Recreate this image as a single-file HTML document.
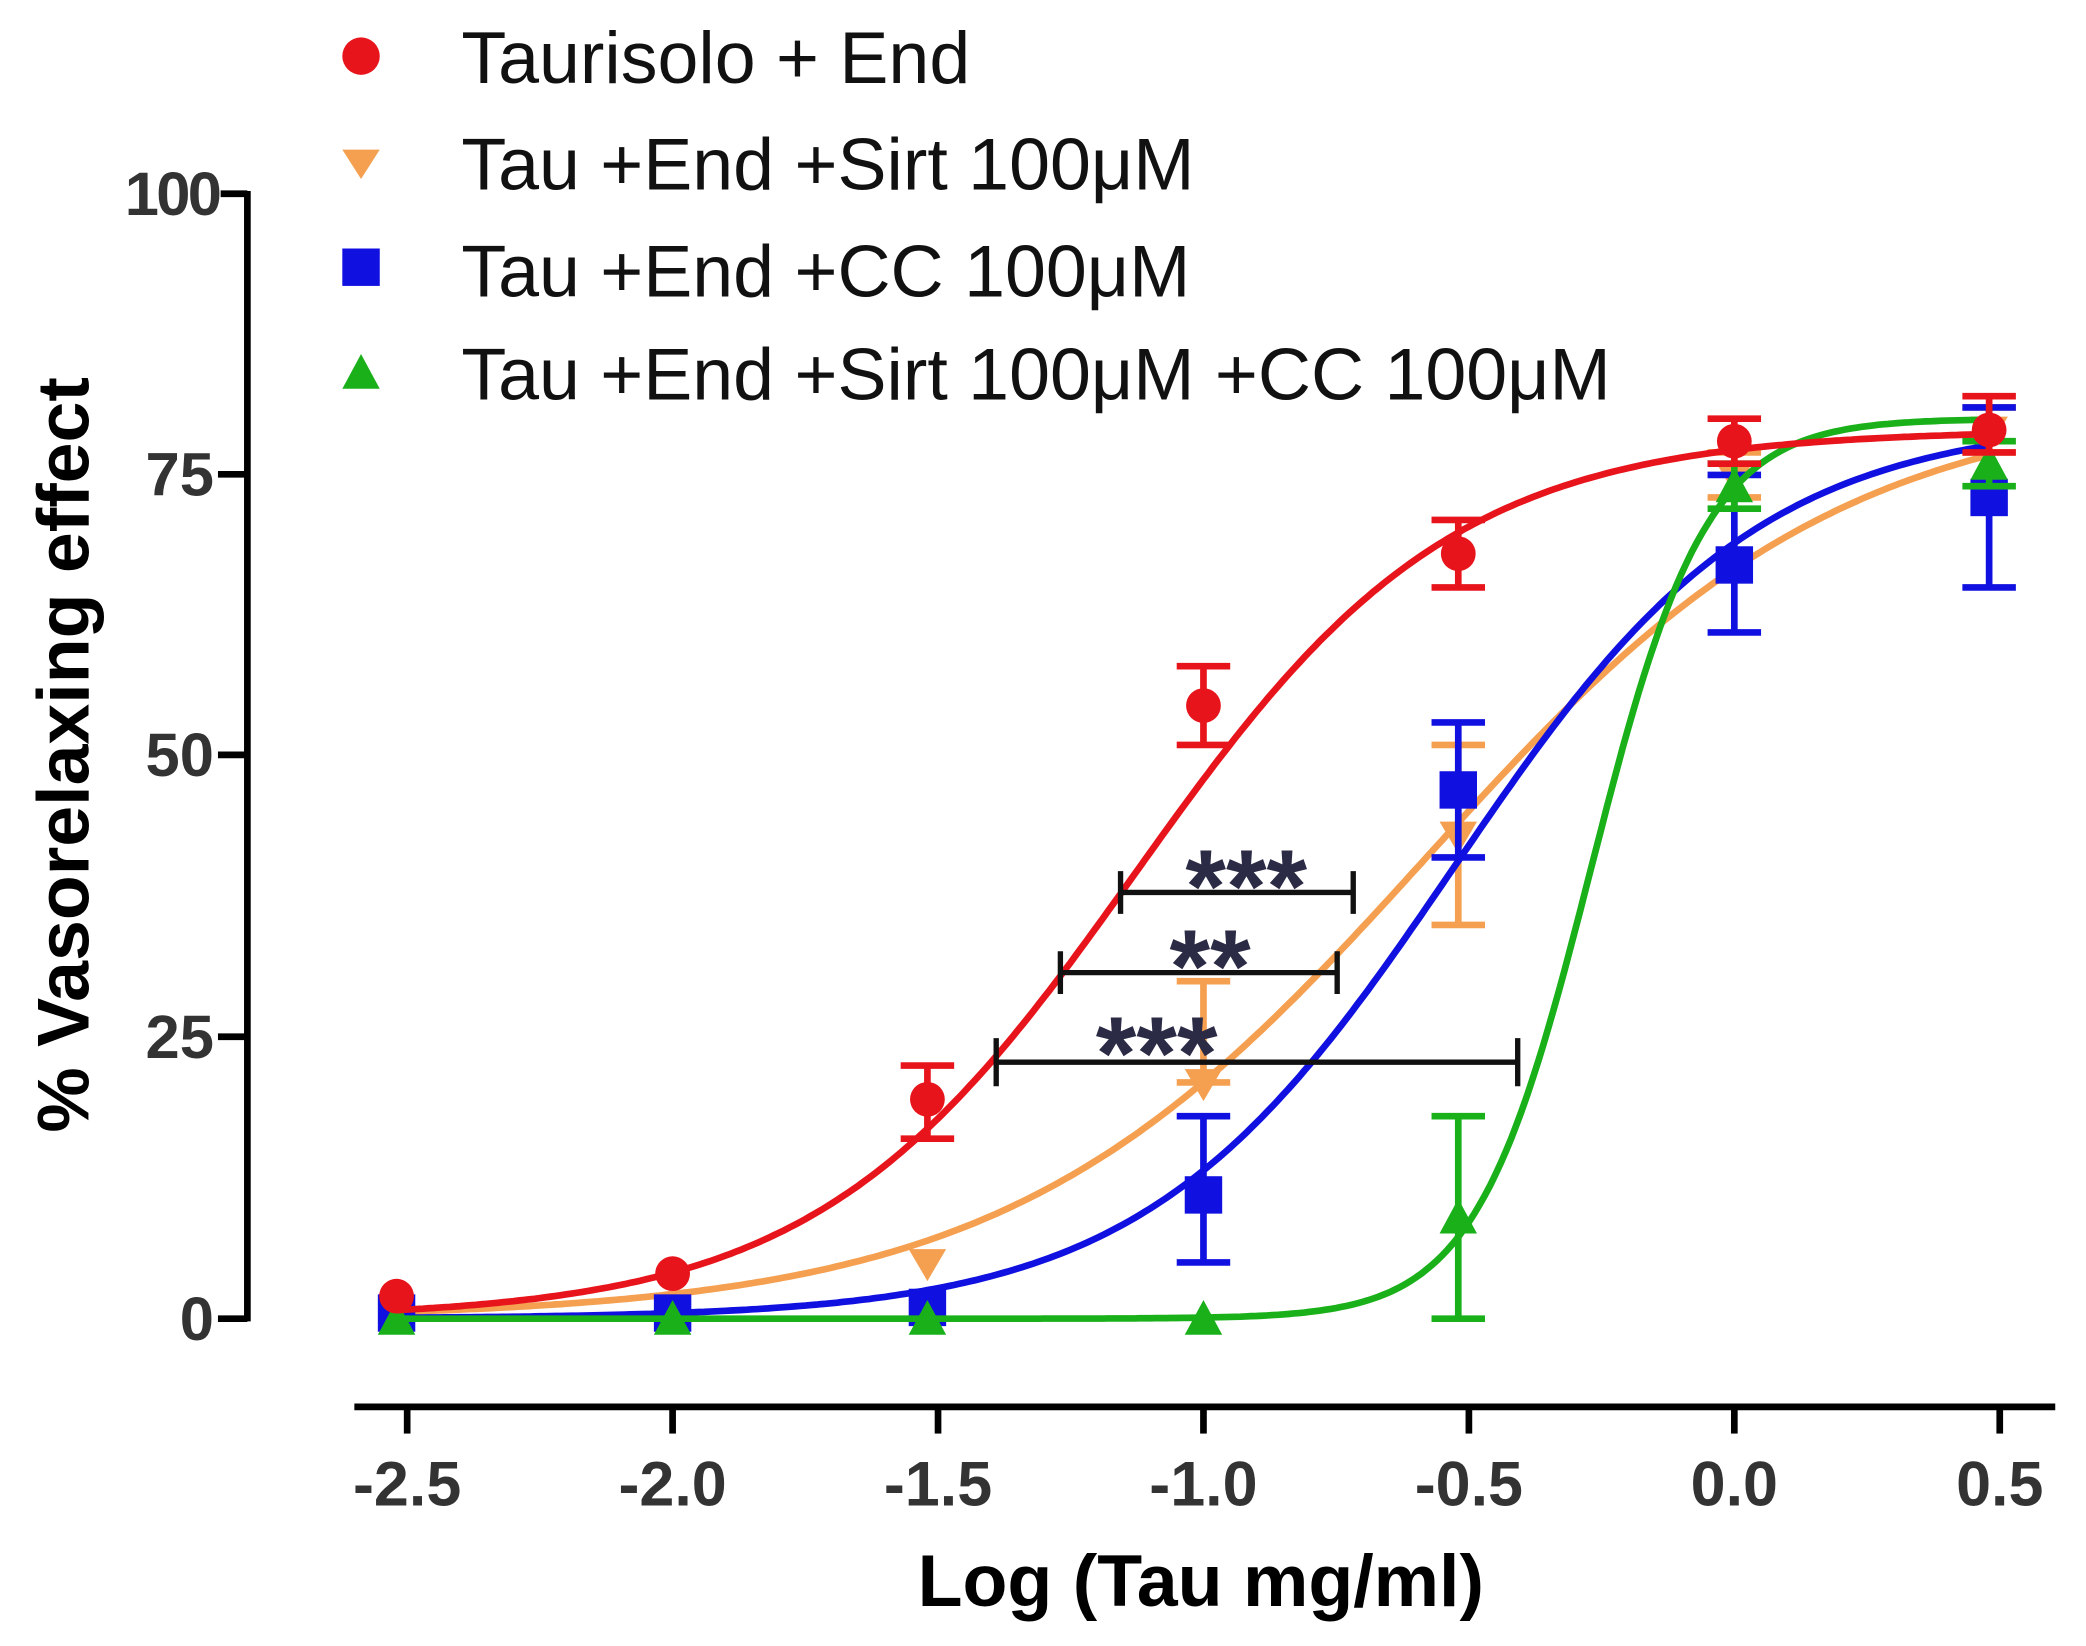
<!DOCTYPE html>
<html><head><meta charset="utf-8"><style>
html,body{margin:0;padding:0;background:#fff;}
svg{display:block;}
text{font-family:"Liberation Sans",Arial,sans-serif;}
</style></head><body>
<svg id="s" width="2086" height="1646" viewBox="0 0 1560 1232" preserveAspectRatio="none" xmlns="http://www.w3.org/2000/svg">
<rect width="1560" height="1232" fill="#fff"/>
<g stroke="#000" stroke-width="5" fill="none">
<line x1="185" y1="143" x2="185" y2="989"/>
<line x1="165" y1="145" x2="185" y2="145"/>
<line x1="163" y1="355" x2="185" y2="355"/>
<line x1="163" y1="565" x2="185" y2="565"/>
<line x1="163" y1="776" x2="185" y2="776"/>
<line x1="163" y1="987" x2="185" y2="987"/>
<line x1="265" y1="1053" x2="1537" y2="1053"/>
</g>
<g id="xt" stroke="#000" stroke-width="5"></g>
<g font-weight="bold" font-size="46" fill="#333" text-anchor="end">
<text x="164" y="161" letter-spacing="-2">100</text><text x="160" y="371">75</text><text x="160" y="581">50</text><text x="160" y="792">25</text><text x="160" y="1003">0</text>
</g>
<g id="xl" font-weight="bold" font-size="47" fill="#333" text-anchor="middle"></g>
<text x="898" y="1202" font-weight="bold" font-size="55" text-anchor="middle" fill="#000">Log (Tau mg/ml)</text>
<text transform="translate(66,565) rotate(-90)" font-weight="bold" font-size="55" text-anchor="middle" fill="#000">% Vasorelaxing effect</text>
<g id="plot"></g>
<g stroke="#111" stroke-width="4">
<line x1="838" y1="668" x2="1012" y2="668"/><line x1="838" y1="652" x2="838" y2="684"/><line x1="1012" y1="652" x2="1012" y2="684"/>
<line x1="793" y1="728" x2="1000" y2="728"/><line x1="793" y1="712" x2="793" y2="744"/><line x1="1000" y1="712" x2="1000" y2="744"/>
<line x1="745" y1="795" x2="1135" y2="795"/><line x1="745" y1="777" x2="745" y2="813"/><line x1="1135" y1="777" x2="1135" y2="813"/>
</g>
<g font-weight="bold" font-size="78" fill="#2b2b45" text-anchor="middle">
<text x="932" y="690">***</text><text x="905" y="750">**</text><text x="865" y="815">***</text>
</g>
<g font-size="55" fill="#111">
<text x="345" y="62">Taurisolo + End</text>
<text x="345" y="142">Tau +End +Sirt 100μM</text>
<text x="345" y="222">Tau +End +CC 100μM</text>
<text x="345" y="299">Tau +End +Sirt 100μM +CC 100μM</text>
</g>
<circle cx="270" cy="42" r="14" fill="#e8141c"/>
<polygon points="256,112 284,112 270,134" fill="#f5a050"/>
<rect x="256" y="186" width="28" height="28" fill="#1010e0"/>
<polygon points="256,291 284,291 270,265" fill="#1ab01a"/>
</svg>
<script>
var NS="http://www.w3.org/2000/svg";
function X(v){return 1297+v*397;}
function Y(p){return 987-p*8.42;}
function el(t,a,p){var e=document.createElementNS(NS,t);for(var k in a)e.setAttribute(k,a[k]);p.appendChild(e);return e;}
var xt=document.getElementById('xt'),xl=document.getElementById('xl');
[-2.5,-2,-1.5,-1,-0.5,0,0.5].forEach(function(v){var x=X(v);el('line',{x1:x,y1:1053,x2:x,y2:1073},xt);var t=el('text',{x:x,y:1127},xl);t.textContent=v.toFixed(1);});
var plot=document.getElementById('plot');
var xs=[-2.52,-2.0,-1.52,-1.0,-0.52,0.0,0.48];
var S=[
 {c:'#f5a050',m:'tri-d',top:82,ec:-0.58,h:1.1,y:[0.5,1,5,21,43,75,79],e:[[0,0],[0,0],[0,0],[21,30],[35,51],[73,77],[77,81]]},
 {c:'#1010e0',m:'sq',top:80,ec:-0.53,h:1.5,y:[0.5,0.5,1,11,47,67,73],e:[[0,0],[0,0],[0,0],[5,18],[41,53],[61,75],[65,81]]},
 {c:'#1ab01a',m:'tri',top:80,ec:-0.27,h:4,y:[0,0,0,0,9,74,76],e:[[0,0],[0,0],[0,0],[0,0],[0,18],[72,76],[74,78]]},
 {c:'#e8141c',m:'c',top:79,ec:-1.13,h:1.45,y:[2,4,19.5,54.5,68,78,79],e:[[0,0],[0,0],[16,22.5],[51,58],[65,71],[76,80],[77,82]]}
];
S.forEach(function(s){
 var d='';for(var i=0;i<=300;i++){var v=-2.52+3*i/300;var p=s.top/(1+Math.pow(10,(s.ec-v)*s.h));d+=(i?'L':'M')+X(v).toFixed(1)+','+Y(p).toFixed(1);}
 el('path',{d:d,fill:'none',stroke:s.c,'stroke-width':5},plot);
 xs.forEach(function(v,i){var x=X(v),y=Y(s.y[i]);var e=s.e[i];
  if(e[1]>e[0]){var lo=Y(e[0]),hi=Y(e[1]);
   el('line',{x1:x,y1:lo,x2:x,y2:hi,stroke:s.c,'stroke-width':5},plot);
   el('line',{x1:x-20,y1:lo,x2:x+20,y2:lo,stroke:s.c,'stroke-width':5},plot);
   el('line',{x1:x-20,y1:hi,x2:x+20,y2:hi,stroke:s.c,'stroke-width':5},plot);}
  if(s.m=='c')el('circle',{cx:x,cy:y,r:13,fill:s.c},plot);
  else if(s.m=='sq')el('rect',{x:x-14,y:y-14,width:28,height:28,fill:s.c},plot);
  else if(s.m=='tri')el('polygon',{points:(x-14)+','+(y+12)+' '+(x+14)+','+(y+12)+' '+x+','+(y-14),fill:s.c},plot);
  else el('polygon',{points:(x-14)+','+(y-10)+' '+(x+14)+','+(y-10)+' '+x+','+(y+14),fill:s.c},plot);
 });
});
</script>
</body></html>
